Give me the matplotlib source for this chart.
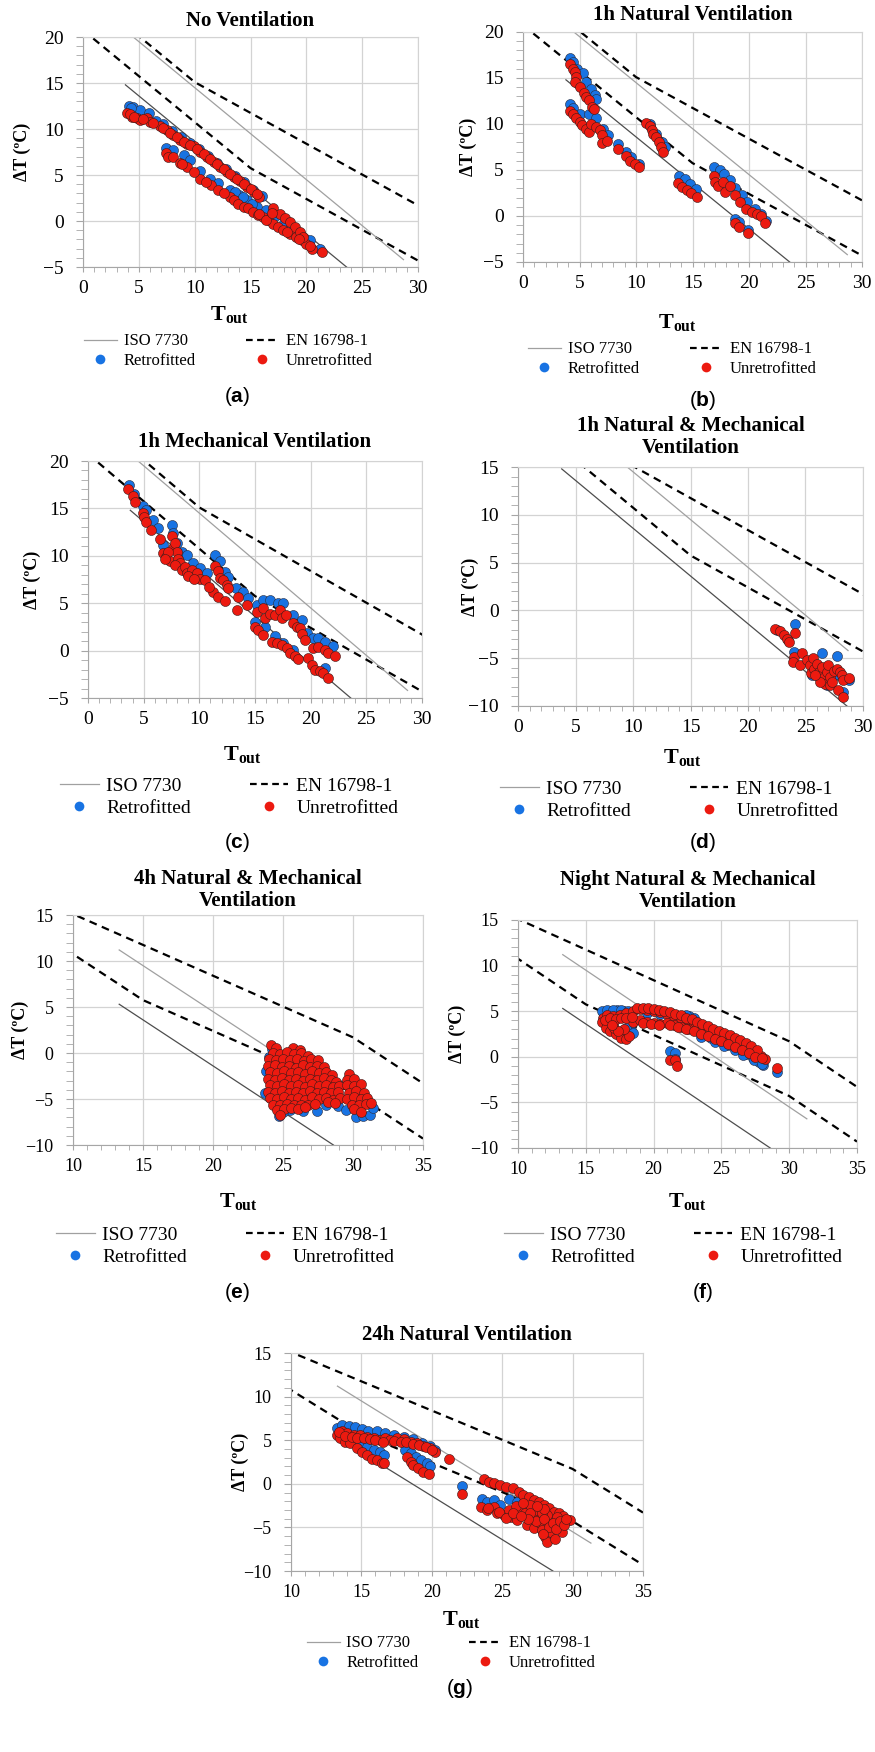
import matplotlib.pyplot as plt
from matplotlib.lines import Line2D
from matplotlib.ticker import MultipleLocator

plt.rcParams['font.family'] = ['Liberation Serif', 'DejaVu Serif']
plt.rcParams['mathtext.fontset'] = 'custom'
plt.rcParams['mathtext.rm'] = 'Liberation Serif'
plt.rcParams['mathtext.bf'] = 'Liberation Serif:bold'
plt.rcParams['mathtext.sf'] = 'Liberation Sans:bold'

BLUE = '#1873e3'
RED = '#ec1a10'

# EN 16798-1 comfort band limits (dT vs Tout)
en_upper_x = [0, 10, 30, 35]
en_upper_y = [25.1, 15.1, 1.7, -3.3]
en_lower_x = [0, 15, 30, 35]
en_lower_y = [20.75, 5.75, -4.3, -9.3]

# ISO 7730 limits, panels (a-d) and panels (e-g)
iso_upper_x_1 = [3.8, 28.7]
iso_upper_y_1 = [20.7, -4.2]
iso_lower_x_1 = [3.8, 28.6]
iso_lower_y_1 = [14.8, -10.0]
iso_upper_x_2 = [13.3, 31.3]
iso_upper_y_2 = [11.2, -6.8]
iso_lower_x_2 = [13.3, 28.6]
iso_lower_y_2 = [5.3, -10.0]

# (Tout, dT) readings per panel
no_vent_retro = [(4.1, 12.5), (4.5, 12.4), (5.1, 12.1), (5.9, 11.7), (4.3, 12.3), (6.5, 10.9), (7.2, 10.5),
                 (8.0, 9.8), (8.8, 9.1), (9.6, 8.5), (10.4, 7.8), (11.2, 7.1), (12.0, 6.3), (12.8, 5.6),
                 (13.6, 4.9), (14.4, 4.2), (15.2, 3.4), (16.0, 2.7), (7.4, 7.9), (8.1, 7.7), (9.0, 7.2),
                 (9.6, 6.6), (10.5, 5.4), (11.4, 4.6), (12.1, 4.1), (13.2, 3.4), (14.0, 2.8), (14.7, 2.3),
                 (15.6, 1.5), (16.4, 1.2), (17.2, 0.5), (18.0, -0.2), (18.8, -0.9), (19.4, -1.4),
                 (20.3, -2.1), (21.2, -3.0), (13.6, 3.1), (14.3, 2.6), (15.1, 1.9)]
no_vent_unretro = [(3.9, 11.7), (4.4, 11.35), (4.8, 11.2), (5.1, 11.0), (5.7, 11.2), (6.0, 10.8), (6.9, 10.3),
                   (7.5, 9.9), (8.1, 9.35), (8.7, 8.8), (9.3, 8.4), (9.9, 8.1), (10.5, 7.5), (11.1, 7.0),
                   (11.7, 6.45), (12.3, 5.9), (12.9, 5.35), (13.5, 4.8), (14.1, 4.3), (14.7, 3.7), (15.3, 3.2),
                   (15.8, 2.6), (7.4, 7.35), (7.6, 7.0), (8.1, 7.0), (8.7, 6.3), (9.3, 5.9), (10.5, 4.6),
                   (11.5, 3.9), (12.1, 3.4), (13.2, 2.6), (13.5, 2.3), (13.9, 1.9), (14.4, 1.5), (14.8, 1.4),
                   (15.2, 1.0), (15.7, 0.6), (16.1, 0.45), (16.6, 0.1), (17.0, -0.3), (17.5, -0.6), (17.9, -1.0),
                   (18.5, -1.4), (19.1, -1.7), (19.6, -2.1), (20.0, -2.5), (20.5, -3.0), (21.4, -3.4),
                   (17.0, 1.4), (17.6, 0.8), (18.1, 0.3), (18.5, -0.1), (19.0, -0.6), (19.4, -1.2), (19.7, -1.7),
                   (15.8, 0.8), (16.4, 0.1), (7.2, 10.1), (7.8, 9.6), (8.4, 9.1), (9.0, 8.6), (9.6, 8.25),
                   (10.2, 7.8), (10.8, 7.25), (11.4, 6.7), (12.0, 6.2), (12.6, 5.6), (13.2, 5.1), (13.8, 4.55),
                   (14.4, 4.0), (15.0, 3.45), (15.55, 2.9), (8.9, 6.2), (9.9, 5.3), (11.0, 4.2), (12.6, 3.0),
                   (4.2, 11.6), (4.6, 11.3), (5.4, 11.1), (6.3, 10.6), (16.9, 0.9), (18.3, -1.2), (19.3, -2.0),
                   (20.3, -2.7)]

nat1_retro = [(4.14, 17.2), (4.4, 16.7), (4.8, 16.0), (5.3, 15.5), (5.6, 14.6), (6.0, 13.8), (6.4, 13.1),
              (6.5, 12.7), (4.2, 12.2), (4.4, 11.7), (5.0, 11.1), (5.8, 11.1), (6.5, 10.6), (7.1, 9.5),
              (7.5, 8.8), (8.4, 7.8), (9.1, 7.0), (9.6, 6.4), (10.3, 5.7), (11.2, 10.0), (11.8, 8.9),
              (12.3, 8.0), (12.6, 7.5), (13.8, 4.4), (14.3, 4.05), (14.8, 3.5), (15.3, 2.9), (16.9, 5.3),
              (17.4, 5.0), (17.8, 4.6), (18.3, 3.9), (18.8, 3.0), (19.4, 2.25), (19.8, 1.5), (20.5, 0.8),
              (21.1, 0.25), (21.5, -0.5), (18.8, -0.3), (19.15, -0.65), (19.95, -1.55)]
nat1_unretro = [(4.14, 16.56), (4.4, 16.0), (4.6, 15.65), (4.7, 15.1), (4.6, 14.6), (5.0, 14.0), (5.4, 13.4),
                (5.6, 12.9), (5.8, 12.6), (6.1, 11.9), (6.3, 11.6), (4.2, 11.4), (4.4, 11.1), (4.7, 10.6),
                (5.0, 10.2), (5.2, 9.85), (5.6, 9.5), (5.85, 9.1), (6.06, 10.0), (6.5, 9.7), (6.8, 9.3),
                (6.95, 8.8), (6.95, 7.9), (7.4, 8.2), (8.4, 7.25), (9.1, 6.5), (9.5, 5.95), (9.9, 5.7),
                (10.3, 5.3), (10.9, 10.1), (11.2, 9.75), (11.4, 9.3), (11.5, 8.95), (11.8, 8.6), (12.0, 8.05),
                (12.2, 7.5), (12.4, 7.0), (13.7, 3.6), (14.1, 3.15), (14.5, 2.8), (14.9, 2.5), (15.4, 2.1),
                (16.9, 4.4), (17.0, 3.7), (17.3, 3.3), (17.7, 3.7), (17.9, 2.6), (18.3, 3.3), (18.8, 2.25),
                (19.2, 1.5), (19.7, 0.8), (20.25, 0.4), (20.7, 0.25), (21.1, -0.05), (21.4, -0.75),
                (18.8, -0.75), (19.15, -1.2), (19.95, -1.9)]

mech1_retro = [(3.7, 17.45), (4.1, 16.55), (4.95, 15.3), (5.25, 14.8), (5.85, 13.75), (6.3, 12.9), (7.5, 13.2),
               (6.75, 11.1), (7.65, 12.4), (7.95, 11.3), (8.4, 10.4), (8.85, 10.1), (9.45, 9.2), (10.05, 8.7),
               (10.65, 8.15), (11.4, 10.1), (11.85, 9.4), (12.3, 8.3), (12.6, 7.8), (13.3, 6.6), (13.95, 6.2),
               (14.4, 5.5), (15.15, 4.8), (15.75, 5.3), (16.35, 5.3), (17.1, 5.0), (17.55, 5.0), (18.45, 3.8),
               (19.2, 3.25), (19.65, 1.85), (20.25, 1.3), (20.7, 1.3), (21.3, 0.95), (22.05, 0.45),
               (15.0, 3.05), (15.9, 2.5), (16.8, 1.5), (17.55, 0.8), (18.45, 0.1), (21.3, -1.85)]
mech1_unretro = [(3.6, 17.0), (4.0, 16.3), (4.2, 15.7), (4.9, 14.5), (5.0, 14.1), (5.25, 13.6), (5.7, 12.7),
                 (6.45, 11.8), (6.75, 10.25), (7.05, 9.9), (7.35, 9.4), (7.6, 10.8), (7.5, 12.1), (7.8, 11.3),
                 (7.95, 10.4), (8.1, 9.7), (8.25, 9.2), (7.8, 9.0), (8.4, 8.5), (8.7, 8.85), (8.85, 8.15),
                 (9.3, 8.5), (9.75, 8.15), (10.05, 7.6), (10.5, 7.45), (11.25, 6.2), (11.7, 5.7), (12.3, 5.2),
                 (13.35, 4.3), (14.25, 4.8), (13.5, 5.7), (11.4, 8.9), (11.7, 8.4), (11.85, 7.7), (12.15, 7.4),
                 (12.45, 6.9), (12.6, 6.6), (15.15, 4.1), (15.75, 4.5), (15.9, 3.4), (16.35, 3.9), (16.8, 3.75),
                 (17.25, 4.3), (17.4, 3.4), (17.8, 3.8), (18.45, 2.9), (18.75, 2.5), (19.05, 2.35), (19.2, 1.8),
                 (19.5, 1.15), (20.25, 0.25), (20.7, 0.4), (21.3, 0.1), (21.6, -0.3), (22.2, -0.6),
                 (15.0, 2.5), (15.3, 2.2), (15.75, 1.65), (16.5, 0.95), (16.95, 0.8), (17.4, 0.6), (17.85, 0.25),
                 (18.15, -0.3), (18.6, -0.6), (18.85, -0.9), (19.8, -0.8), (20.1, -1.5), (20.4, -2.0),
                 (20.85, -2.2), (21.15, -2.4), (21.6, -2.9), (9.0, 7.9), (9.5, 7.6), (10.9, 6.7),
                 (7.2, 10.4), (6.9, 9.7)]

natmech1_retro = [(24.1, -1.45), (24.0, -4.35), (26.4, -4.5), (27.7, -4.8), (22.5, -2.1), (23.5, -3.1),
                  (25.55, -6.8), (26.85, -7.85), (27.85, -6.8), (28.3, -8.5), (28.8, -7.3), (27.45, -6.8)]
natmech1_unretro = [(22.35, -1.9), (22.8, -2.2), (23.1, -2.6), (23.35, -3.0), (23.55, -3.3), (24.1, -2.4),
                    (24.0, -4.9), (23.95, -5.4), (24.5, -5.75), (24.7, -4.5), (25.1, -5.2), (25.35, -5.75),
                    (25.45, -6.6), (25.7, -6.1), (25.65, -4.95), (26.0, -5.6), (26.2, -6.45), (26.4, -5.9),
                    (26.55, -7.1), (26.7, -7.65), (26.85, -6.45), (27.0, -5.75), (27.1, -7.0), (27.15, -7.85),
                    (27.3, -7.5), (27.45, -6.3), (27.7, -6.1), (27.85, -8.35), (28.0, -6.45), (28.15, -6.8),
                    (28.25, -7.3), (28.25, -9.1), (28.75, -7.1), (26.3, -7.5), (25.85, -6.8)]

natmech4_retro = [(24.0, -0.4), (23.7, -4.3), (24.7, -6.8), (25.5, -6.2), (26.4, -6.3), (27.4, -6.3),
                  (28.1, -3.4), (28.1, -5.6), (28.9, -5.8), (30.2, -7.0), (30.7, -6.8), (31.2, -6.7),
                  (31.4, -6.0), (29.0, -3.5), (24.2, 0.4), (29.5, -6.2), (25.0, -6.4), (23.8, -2.0)]
natmech4_unretro = [(24.17, 0.9), (24.5, 0.5), (25.7, 0.5), (26.2, 0.3),
                    (24.3, 0.0), (24.8, -0.1), (25.3, 0.1), (25.8, -0.1), (26.3, 0.0), (26.8, -0.3),
                    (24.0, -0.7), (24.5, -0.8), (25.0, -0.6), (25.5, -0.8), (26.0, -0.6), (26.5, -0.9),
                    (27.0, -0.7), (27.5, -0.8),
                    (23.9, -1.4), (24.4, -1.3), (24.9, -1.5), (25.4, -1.4), (25.9, -1.6), (26.4, -1.3),
                    (26.9, -1.5), (27.4, -1.4), (27.9, -1.5),
                    (24.1, -2.1), (24.6, -2.2), (25.1, -2.0), (25.6, -2.2), (26.1, -2.1), (26.6, -2.3),
                    (27.1, -2.0), (27.6, -2.2), (28.1, -2.1), (28.5, -2.4), (29.7, -2.3),
                    (23.9, -2.8), (24.4, -2.9), (24.9, -2.7), (25.4, -2.9), (25.9, -2.8), (26.4, -3.0),
                    (26.9, -2.8), (27.4, -2.9), (27.9, -2.7), (28.4, -2.9), (28.8, -3.1), (29.6, -2.9),
                    (30.1, -2.8),
                    (24.1, -3.5), (24.6, -3.6), (25.1, -3.4), (25.6, -3.6), (26.1, -3.5), (26.6, -3.7),
                    (27.1, -3.4), (27.6, -3.6), (28.1, -3.5), (28.6, -3.7), (29.0, -3.6), (29.6, -3.5),
                    (30.1, -3.6), (30.6, -3.4),
                    (23.9, -4.2), (24.4, -4.3), (24.9, -4.1), (25.4, -4.3), (25.9, -4.2), (26.4, -4.4),
                    (26.9, -4.1), (27.4, -4.3), (27.9, -4.2), (28.4, -4.4), (28.9, -4.2), (29.7, -4.3),
                    (30.2, -4.1), (30.8, -4.4),
                    (24.1, -4.9), (24.6, -5.0), (25.1, -4.8), (25.6, -5.0), (26.1, -4.9), (26.6, -5.1),
                    (27.1, -4.8), (27.6, -5.0), (28.1, -4.9), (28.6, -5.1), (29.1, -4.9), (29.6, -5.0),
                    (30.1, -4.8), (30.6, -5.0), (31.0, -4.9),
                    (24.3, -5.6), (24.8, -5.7), (25.3, -5.5), (25.8, -5.7), (26.3, -5.6), (26.8, -5.7),
                    (27.3, -5.5), (28.2, -5.3), (28.7, -5.4), (29.9, -5.6), (30.4, -5.7), (30.9, -5.5),
                    (31.3, -5.4),
                    (24.6, -6.2), (25.1, -6.1), (25.6, -6.0), (26.1, -6.1), (26.6, -5.9), (30.1, -6.1),
                    (30.6, -6.4), (24.8, -6.7)]

night_retro = [(16.3, 4.9), (16.8, 5.0), (17.3, 5.1), (17.8, 5.0), (18.3, 4.9), (18.3, 2.9), (18.0, 3.2),
               (22.6, 4.5), (23.0, 4.3), (24.2, 2.1), (24.8, 1.9), (25.5, 1.3), (26.2, 0.9), (26.8, 0.3),
               (27.3, -0.1), (27.8, -0.6), (28.1, -0.9), (21.2, 0.6), (21.6, 0.4), (21.6, -0.2),
               (29.1, -1.7), (20.5, 4.7), (19.5, 4.8), (23.5, 2.2), (24.5, 1.6), (25.2, 1.2), (26.0, 0.7),
               (26.6, 0.2), (27.4, -0.4), (28.0, -0.8), (16.2, 5.0), (16.6, 5.1), (17.0, 5.1), (17.6, 5.1),
               (18.1, 5.0), (22.4, 4.6), (18.5, 2.6)]
night_unretro = [(16.3, 4.3), (16.6, 4.6), (17.0, 4.5), (17.5, 4.6), (18.0, 4.8), (18.5, 5.0), (19.0, 5.2),
                 (19.5, 5.1), (20.0, 5.0), (20.5, 4.9), (21.0, 4.7), (21.5, 4.5), (22.0, 4.2), (22.5, 4.0),
                 (23.0, 3.6), (23.5, 3.3), (24.0, 3.0), (24.5, 2.6), (25.0, 2.3), (25.5, 1.9), (26.0, 1.6),
                 (26.5, 1.2), (27.0, 0.8), (27.5, 0.4), (27.9, 0.1), (28.2, -0.2), (16.2, 3.8), (16.5, 3.2),
                 (16.8, 2.8), (17.2, 2.5), (17.6, 2.1), (18.0, 2.0), (18.2, 2.3), (17.8, 3.0), (17.0, 3.7),
                 (18.5, 3.8), (19.0, 4.0), (19.5, 3.8), (20.0, 3.7), (20.5, 3.6), (21.0, 3.7), (21.5, 3.5),
                 (22.0, 3.3), (22.5, 3.0), (21.2, -0.3), (21.6, -0.4), (21.7, -1.0), (29.1, -1.2),
                 (18.8, 5.3), (19.2, 5.35), (19.6, 5.3), (20.0, 5.25), (20.4, 5.15), (20.8, 5.0), (21.2, 4.9),
                 (21.6, 4.7), (22.0, 4.55), (22.4, 4.3), (22.8, 4.1), (23.2, 3.85), (23.6, 3.6), (24.0, 3.35),
                 (24.4, 3.1), (24.8, 2.85), (25.2, 2.6), (25.6, 2.35), (26.0, 2.1), (26.4, 1.85), (26.8, 1.5),
                 (27.2, 1.2), (27.6, 0.8), (19.2, 3.7), (19.8, 3.6), (20.4, 3.5), (21.2, 3.5), (21.8, 3.3),
                 (22.4, 3.1), (23.0, 2.8), (23.5, 2.5), (24.0, 2.3), (24.5, 2.0), (25.0, 1.7), (25.5, 1.4),
                 (26.0, 1.1), (26.5, 0.7), (27.0, 0.4), (27.5, 0.0), (28.0, -0.1), (16.4, 4.0), (16.8, 4.2),
                 (17.2, 4.1), (17.6, 4.3), (18.0, 4.2), (18.4, 4.4), (17.1, 3.2), (17.4, 2.8), (16.9, 3.5)]

nat24_retro = [(13.27, 6.4), (13.6, 6.75), (14.1, 6.65), (14.55, 6.5), (15.05, 6.25), (15.5, 6.1), (16.1, 6.0),
               (16.7, 5.8), (17.3, 5.6), (18.0, 5.4), (18.7, 5.1), (19.3, 4.65), (19.9, 4.3), (20.25, 3.9),
               (14.9, 4.65), (15.4, 4.25), (15.9, 3.9), (16.35, 3.6), (16.6, 3.3), (18.1, 3.9), (18.5, 3.5),
               (18.85, 3.1), (19.2, 2.7), (19.65, 2.35), (19.9, 2.0), (22.15, -0.25), (23.55, -1.7),
               (23.9, -2.05), (24.4, -1.9), (24.85, -2.45), (25.45, -1.7), (26.05, -2.05), (26.65, -2.55),
               (27.1, -3.0), (27.0, -3.95), (27.9, -5.5), (28.4, -5.5), (29.1, -4.95), (29.7, -4.2)]
nat24_unretro = [(13.27, 5.6), (13.6, 6.0), (14.0, 5.8), (14.45, 5.6), (14.9, 5.6), (15.4, 5.4), (15.9, 5.3),
                 (16.3, 5.0), (16.7, 5.2), (17.05, 5.0), (17.5, 5.2), (18.0, 5.1), (18.5, 4.8), (18.95, 4.65),
                 (19.4, 4.3), (19.9, 4.1), (20.25, 3.7), (21.2, 2.9), (13.5, 5.2), (13.85, 4.85), (14.2, 4.65),
                 (14.7, 4.1), (15.05, 3.7), (15.4, 3.3), (15.75, 2.9), (16.1, 2.7), (16.45, 2.4), (16.6, 2.35),
                 (18.25, 3.1), (18.5, 2.5), (18.7, 2.2), (19.05, 1.8), (19.4, 1.4), (19.8, 1.1), (22.15, -1.2),
                 (23.7, 0.5), (24.05, 0.2), (24.4, 0.05), (24.85, -0.15), (25.3, -0.35), (25.8, -0.5),
                 (26.2, -0.9), (26.5, -1.3), (26.9, -1.5), (27.25, -1.9), (27.6, -2.05), (27.95, -2.45),
                 (28.3, -2.8), (28.65, -3.2), (29.0, -3.4), (29.35, -3.7), (29.6, -4.2), (29.85, -4.2),
                 (23.5, -2.65), (23.9, -3.0), (24.4, -2.65), (24.6, -3.4), (25.1, -3.6), (25.45, -3.0),
                 (25.6, -3.8), (26.05, -4.2), (26.3, -3.0), (26.65, -3.4), (26.75, -4.75), (27.25, -5.1),
                 (27.35, -3.8), (27.7, -4.55), (27.8, -5.3), (28.05, -6.1), (28.2, -6.65), (28.4, -4.2),
                 (28.5, -5.5), (28.75, -6.3), (29.0, -4.95), (29.25, -5.5), (28.9, -3.8), (28.2, -3.6),
                 (27.5, -3.0), (27.0, -2.45), (26.0, -2.5), (26.5, -2.2), (27.0, -3.3), (27.4, -4.3),
                 (27.8, -3.3), (28.0, -4.0), (28.3, -5.0), (28.6, -4.5), (28.8, -5.2), (29.1, -4.3),
                 (29.4, -4.7), (28.0, -2.9), (27.5, -2.5), (26.8, -4.0), (27.9, -5.8), (29.5, -4.0),
                 (24.0, -2.8), (24.8, -3.2), (25.3, -3.9), (25.8, -3.4), (26.3, -3.7), (13.4, 5.9),
                 (13.8, 5.5), (14.3, 5.4), (14.7, 5.3), (15.2, 5.2), (15.6, 5.1), (16.0, 5.0), (16.5, 4.8),
                 (17.3, 4.9), (17.8, 4.8), (18.2, 4.8), (18.7, 4.6), (19.1, 4.4), (19.6, 4.2), (20.0, 3.9)]

W, H = 875, 1752
fig = plt.figure(figsize=(W / 100, H / 100), dpi=100)


def fx(p):
    return p / W


def fy(p):
    return 1 - p / H


# layout in pixels of the reference (y measured from top)
panels = [
    dict(title='No Ventilation', label='a', box=(83, 37, 418, 267), title_y=21, ylab_x=22, tout=(229, 315),
         leg=(228, 351), lab=(237, 397), xlim=(0, 30), ylim=(-5, 20), iso=1, tick=14, legfs=12,
         retro=no_vent_retro, unretro=no_vent_unretro),
    dict(title='1h Natural Ventilation', label='b', box=(523, 32, 862, 262), title_y=15, ylab_x=468,
         tout=(677, 323), leg=(672, 359), lab=(703, 400), xlim=(0, 30), ylim=(-5, 20), iso=1, tick=14,
         legfs=12, retro=nat1_retro, unretro=nat1_unretro),
    dict(title='1h Mechanical Ventilation', label='c', box=(88, 461, 422, 698), title_y=442, ylab_x=32,
         tout=(242, 755), leg=(229, 797), lab=(237, 843), xlim=(0, 30), ylim=(-5, 20), iso=1, tick=14,
         legfs=14, retro=mech1_retro, unretro=mech1_unretro),
    dict(title='1h Natural & Mechanical\nVentilation', label='d', box=(518, 467, 863, 706), title_y=437,
         ylab_x=470, tout=(682, 758), leg=(669, 800), lab=(703, 843), xlim=(0, 30), ylim=(-10, 15), iso=1,
         tick=14, legfs=14, retro=natmech1_retro, unretro=natmech1_unretro),
    dict(title='4h Natural & Mechanical\nVentilation', label='e', box=(73, 915, 423, 1145), title_y=890,
         ylab_x=20, tout=(238, 1202), leg=(225, 1246), lab=(237, 1293), xlim=(10, 35), ylim=(-10, 15), iso=2,
         tick=13, legfs=14, retro=natmech4_retro, unretro=natmech4_unretro),
    dict(title='Night Natural & Mechanical\nVentilation', label='f', box=(518, 920, 857, 1148), title_y=891,
         ylab_x=457, tout=(687, 1202), leg=(673, 1246), lab=(703, 1293), xlim=(10, 35), ylim=(-10, 15), iso=2,
         tick=13, legfs=14, retro=night_retro, unretro=night_unretro),
    dict(title='24h Natural Ventilation', label='g', box=(291, 1353, 643, 1571), title_y=1335, ylab_x=240,
         tout=(461, 1620), leg=(451, 1653), lab=(460, 1688), xlim=(10, 35), ylim=(-10, 15), iso=2, tick=13,
         legfs=12, retro=nat24_retro, unretro=nat24_unretro),
]

for p in panels:
    l, t, r, b = p['box']
    ax = fig.add_axes([fx(l), fy(b), (r - l) / W, (b - t) / H])
    ax.set_xlim(*p['xlim'])
    ax.set_ylim(*p['ylim'])
    ax.xaxis.set_major_locator(MultipleLocator(5))
    ax.yaxis.set_major_locator(MultipleLocator(5))
    ax.xaxis.set_minor_locator(MultipleLocator(1))
    ax.yaxis.set_minor_locator(MultipleLocator(1))
    ax.grid(True, which='major', color='#d3d3d3', lw=0.9)
    ax.set_axisbelow(True)
    for side in ['top', 'right']:
        ax.spines[side].set_color('#d3d3d3')
    for side in ['left', 'bottom']:
        ax.spines[side].set_color('#a6a6a6')
    ax.tick_params(axis='x', which='both', direction='out', length=3.6, color='#a6a6a6',
                   labelsize=p['tick'], pad=6)
    ax.tick_params(axis='y', which='both', direction='out', length=5, color='#a6a6a6',
                   labelsize=p['tick'], pad=9)

    # reference lines
    ax.plot(en_upper_x, en_upper_y, color='black', lw=1.6, dashes=(3.5, 2.5), zorder=2)
    ax.plot(en_lower_x, en_lower_y, color='black', lw=1.6, dashes=(3.5, 2.5), zorder=2)
    if p['iso'] == 1:
        ax.plot(iso_upper_x_1, iso_upper_y_1, color='#a0a0a0', lw=0.9, zorder=2)
        ax.plot(iso_lower_x_1, iso_lower_y_1, color='#4d4d4d', lw=0.9, zorder=2)
    else:
        ax.plot(iso_upper_x_2, iso_upper_y_2, color='#a0a0a0', lw=0.9, zorder=2)
        ax.plot(iso_lower_x_2, iso_lower_y_2, color='#4d4d4d', lw=0.9, zorder=2)

    rx, ry = zip(*p['retro'])
    ux, uy = zip(*p['unretro'])
    ax.scatter(rx, ry, s=52, color=BLUE, edgecolor='#2b2b3a', linewidth=0.4, zorder=3)
    ax.scatter(ux, uy, s=52, color=RED, edgecolor='#3a1a1a', linewidth=0.4, zorder=4)

    cx = (l + r) / 2
    fig.text(fx(cx), fy(p['title_y']), p['title'], ha='center', va='center', fontsize=15,
             fontweight='bold', linespacing=1.15)
    fig.text(fx(p['ylab_x']), fy((t + b) / 2), 'ΔT (ºC)', ha='center', va='center', rotation=90,
             fontsize=13, fontweight='bold')
    fig.text(fx(p['tout'][0]), fy(p['tout'][1]), r'$\mathbf{T}_{\mathbf{out}}$', ha='center', va='center',
             fontsize=16)
    fig.text(fx(p['lab'][0]), fy(p['lab'][1]), r'($\mathsf{' + p['label'] + '}$)', ha='center', va='center',
             fontsize=15, family='Liberation Sans')

    handles = [
        Line2D([], [], color='#a0a0a0', lw=0.9),
        Line2D([], [], marker='o', ls='none', color=BLUE, markersize=7, markeredgewidth=0),
        Line2D([], [], color='black', lw=1.6, dashes=(3, 2)),
        Line2D([], [], marker='o', ls='none', color=RED, markersize=7, markeredgewidth=0),
    ]
    labels = ['ISO 7730', 'Retrofitted', 'EN 16798-1', 'Unretrofitted']
    ax.legend(handles, labels, ncol=2, loc='center', bbox_to_anchor=(fx(p['leg'][0]), fy(p['leg'][1])),
              bbox_transform=fig.transFigure, frameon=False, fontsize=p['legfs'], handlelength=2.0,
              handletextpad=0.4, columnspacing=3.0, labelspacing=0.2, borderpad=0)

fig.savefig('out.png', dpi=100, facecolor='white')
